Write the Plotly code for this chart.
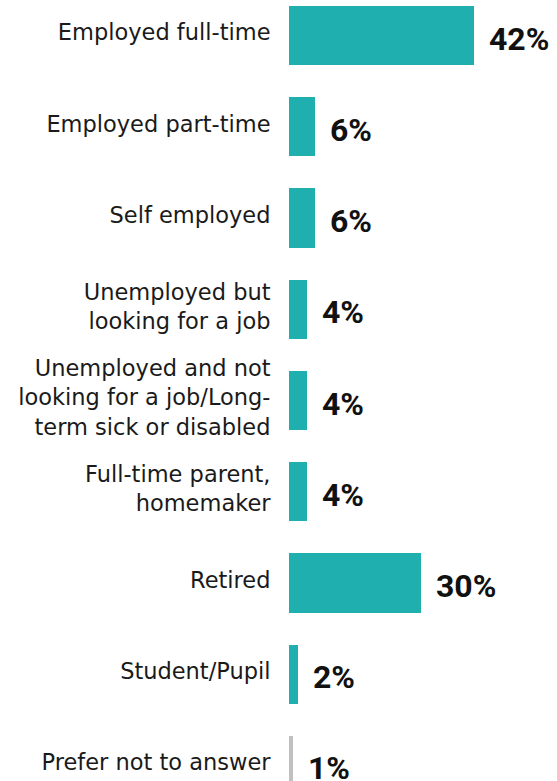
import plotly.graph_objects as go

# Employment status of respondents (share of all respondents, %)
categories = [
    "Employed full-time",
    "Employed part-time",
    "Self employed",
    "Unemployed but<br>looking for a job",
    "Unemployed and not<br>looking for a job/Long-<br>term sick or disabled",
    "Full-time parent,<br>homemaker",
    "Retired",
    "Student/Pupil",
    "Prefer not to answer",
]
values = [42, 6, 6, 4, 4, 4, 30, 2, 1]
value_labels = [f"{v}%" for v in values]

TEAL = "#1FAFAE"
GREY = "#C0C0C0"
bar_colors = [GREY if c == "Prefer not to answer" else TEAL for c in categories]

rows = list(range(len(categories)))

fig = go.Figure(
    go.Bar(
        x=values,
        y=rows,
        orientation="h",
        width=0.65,
        marker=dict(color=bar_colors, line=dict(width=0)),
        hoverinfo="skip",
    )
)

# bold value labels just past the end of each bar
for r, v, lab in zip(rows, values, value_labels):
    fig.add_annotation(
        x=v, y=r, xref="x", yref="y",
        text=f"<b>{lab}</b>",
        showarrow=False,
        xanchor="left", yanchor="middle",
        xshift=13, yshift=-3,
        font=dict(family="Roboto", size=32, color="#111111"),
    )

fig.update_layout(
    width=557,
    height=781,
    margin=dict(l=289, r=0, t=0, b=0),
    paper_bgcolor="white",
    plot_bgcolor="white",
    showlegend=False,
    bargap=0,
    font=dict(family="DejaVu Sans", color="#1a1a1a"),
)

fig.update_xaxes(
    range=[0, 60.9],
    visible=False,
    showgrid=False,
    zeroline=False,
)

fig.update_yaxes(
    tickmode="array",
    tickvals=rows,
    ticktext=categories,
    range=[8.17, -0.39],
    showgrid=False,
    zeroline=False,
    showline=False,
    ticks="outside",
    ticklen=13,
    tickcolor="rgba(0,0,0,0)",
    ticklabelshift=3,
    tickfont=dict(family="DejaVu Sans", size=22.5, color="#1a1a1a"),
    automargin=False,
)

fig.write_html("out.html")
